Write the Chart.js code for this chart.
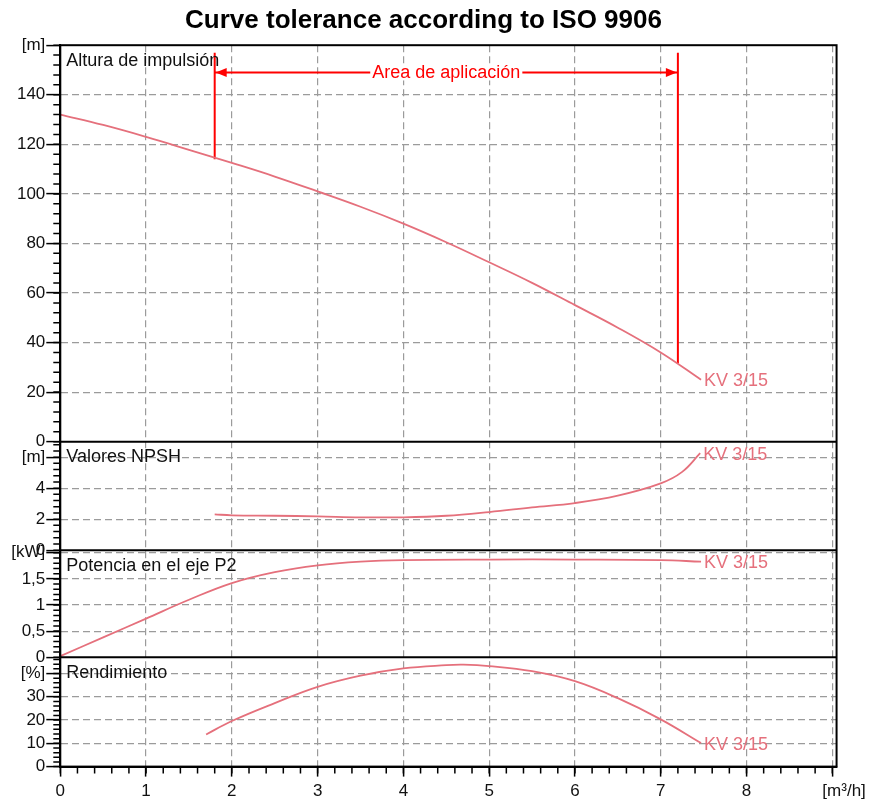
<!DOCTYPE html>
<html>
<head>
<meta charset="utf-8">
<script src="https://cdn.jsdelivr.net/npm/chart.js@4.4.1/dist/chart.umd.min.js"></script>
<style>
  html, body { margin: 0; padding: 0; background: #ffffff; }
  #wrap { width: 871px; height: 801px; position: relative; }
  canvas { display: block; }
</style>
</head>
<body>
<div id="wrap"><canvas id="c" width="871" height="801" style="width:871px;height:801px"></canvas></div>
<script>
// ---------------- data ----------------
const chartTitle = 'Curve tolerance according to ISO 9906';
const panelTitles = ['Altura de impulsión', 'Valores NPSH', 'Potencia en el eje P2', 'Rendimiento'];
const seriesLabel = 'KV 3/15';
const areaLabel = 'Area de aplicación';
const flowUnit = '\u00a0\u00a0\u00a0\u00a0\u00a0[m³/h]';

const headX = [0, 0.5, 1, 1.5, 2, 2.5, 3, 3.5, 4, 4.5, 5, 5.5, 6, 6.5, 7, 7.47];
const headY = [132, 127.8, 123, 117.8, 112.5, 107, 101, 94.8, 88, 80.5, 72.4, 64.1, 55.1, 46, 36, 25];

const npshX = [1.8, 2, 2.5, 3, 3.5, 4, 4.5, 5, 5.5, 6, 6.5, 7, 7.25, 7.46];
const npshY = [2.31, 2.25, 2.22, 2.18, 2.12, 2.12, 2.22, 2.46, 2.76, 3.04, 3.52, 4.31, 5.05, 6.26];

const powX = [0, 0.5, 1, 1.5, 2, 2.5, 3, 3.5, 4, 5, 6, 7, 7.47];
const powY = [0.02, 0.38, 0.74, 1.1, 1.42, 1.63, 1.76, 1.83, 1.86, 1.87, 1.87, 1.86, 1.83];

const effX = [1.7, 2, 2.5, 3, 3.5, 4, 4.5, 4.7, 5, 5.5, 6, 6.5, 7, 7.47];
const effY = [13.8, 19.6, 27.3, 34.3, 39.1, 42.2, 43.6, 43.8, 43.2, 41, 36.7, 29.4, 20.3, 10.1];

// application area (flow limits, head values)
const areaX = [1.8, 7.2];
const areaTop = 157;
const areaBottom = [114, 31.5];
const arrowY = 149;

// axis ranges / ticks
const xMax = 9.05, xStep = 1, xMinor = 0.2;
const headMax = 160, headStep = 20, headMinor = 4;
const npshMax = 7, npshStep = 2, npshMinor = 0.4;
const powMax = 2.05, powStep = 0.5, powMinor = 0.1;
const effMax = 47, effStep = 10, effMinor = 2;
const units = { yHead: ['[m]', 160], yNpsh: ['[m]', 6], yPow: ['[kW]', 2], yEff: ['[%]', 40] };

// ---------------- styling ----------------
const FONT = "Arial, 'Liberation Sans', Helvetica, sans-serif";
Chart.defaults.font.family = FONT;
Chart.defaults.color = '#111';
const curveColor = '#e5707c';
const areaColor = '#ff0000';
const gridColor = '#9b9b9b';

const pts = (xs, ys) => xs.map((x, i) => ({ x: x, y: ys[i] }));
const fmt = v => String(v).replace('.', ',');

function yScale(id, max, step, sw, w) {
  return {
    type: 'linear', position: 'left', stack: 'panels', stackWeight: sw, weight: w,
    min: 0, max: max,
    afterFit(s) { s.width = 50; },
    ticks: {
      stepSize: step, includeBounds: false, autoSkip: false, padding: 1,
      font: { size: 17 }, color: '#111',
      callback: v => (Math.abs(v - units[id][1]) < 1e-9 ? units[id][0] : fmt(v))
    },
    grid: {
      color: c => (c.tick && (c.tick.value === 0 || Math.abs(c.tick.value - max) < 1e-9)) ? 'rgba(0,0,0,0)' : gridColor,
      lineWidth: 1.2, tickLength: 14, tickColor: '#000', tickWidth: 1.5
    },
    border: { display: true, color: '#000', width: 2, dash: [7, 4] }
  };
}

const lineDs = (data, axis) => ({
  data: data, yAxisID: axis, borderColor: curveColor, borderWidth: 1.8,
  pointRadius: 0, fill: false, tension: 0.4
});
const redDs = (data) => ({
  data: data, yAxisID: 'yHead', borderColor: areaColor, borderWidth: 2,
  pointRadius: 0, fill: false, tension: 0
});

const minorTicks = [['yHead', headMinor], ['yNpsh', npshMinor], ['yPow', powMinor], ['yEff', effMinor]];

const extras = {
  id: 'extras',
  afterDatasetsDraw(chart) {
    const { ctx, scales } = chart;
    const xs = scales.x, yh = scales.yHead;
    const x1 = xs.getPixelForValue(areaX[0]), x2 = xs.getPixelForValue(areaX[1]);
    const ya = yh.getPixelForValue(arrowY);
    ctx.save();
    ctx.fillStyle = areaColor;
    ctx.beginPath();
    ctx.moveTo(x1 + 1, ya); ctx.lineTo(x1 + 12, ya - 4.5); ctx.lineTo(x1 + 12, ya + 4.5); ctx.closePath(); ctx.fill();
    ctx.beginPath();
    ctx.moveTo(x2 - 1, ya); ctx.lineTo(x2 - 12, ya - 4.5); ctx.lineTo(x2 - 12, ya + 4.5); ctx.closePath(); ctx.fill();
    ctx.font = '18px ' + FONT;
    const tw = ctx.measureText(areaLabel).width;
    const xc = (x1 + x2) / 2;
    ctx.fillStyle = '#fff';
    ctx.fillRect(xc - tw / 2 - 2, ya - 8, tw + 4, 16);
    ctx.fillStyle = areaColor;
    ctx.textAlign = 'center'; ctx.textBaseline = 'middle';
    ctx.fillText(areaLabel, xc, ya + 1);
    ctx.fillStyle = curveColor;
    ctx.textAlign = 'left';
    for (let i = 0; i < 4; i++) {
      const el = chart.getDatasetMeta(i).data.at(-1);
      ctx.fillText(seriesLabel, el.x + 3, el.y + 1.5);
    }
    ctx.restore();
  },
  afterDraw(chart) {
    const { ctx, chartArea: ca, scales } = chart;
    ctx.save();
    ctx.strokeStyle = '#000'; ctx.lineWidth = 1.5;
    ctx.beginPath();
    const xs = scales.x;
    const nx = Math.floor(xMax / xMinor + 1e-6);
    for (let i = 0; i <= nx; i++) {
      const p = xs.getPixelForValue(i * xMinor);
      ctx.moveTo(p, ca.bottom); ctx.lineTo(p, ca.bottom + 7);
    }
    for (const [id, step] of minorTicks) {
      const s = scales[id];
      const n = Math.floor(s.max / step + 1e-6);
      for (let i = 0; i <= n; i++) {
        const p = s.getPixelForValue(i * step);
        ctx.moveTo(ca.left, p); ctx.lineTo(ca.left - 7, p);
      }
    }
    ctx.stroke();
    ctx.strokeStyle = '#000'; ctx.lineWidth = 2;
    ctx.beginPath();
    for (const id of ['yHead', 'yNpsh', 'yPow']) {
      const b = scales[id].bottom;
      ctx.moveTo(ca.left, b); ctx.lineTo(ca.right, b);
    }
    ctx.stroke();
    ctx.strokeRect(ca.left, ca.top, ca.right - ca.left, ca.bottom - ca.top);
    ctx.fillStyle = '#111';
    ctx.font = '18px ' + FONT;
    ctx.textAlign = 'left'; ctx.textBaseline = 'middle';
    ['yHead', 'yNpsh', 'yPow', 'yEff'].forEach((id, k) => {
      ctx.fillText(panelTitles[k], ca.left + 6, scales[id].top + 15.5);
    });
    ctx.restore();
  }
};

new Chart(document.getElementById('c'), {
  type: 'line',
  data: {
    datasets: [
      lineDs(pts(headX, headY), 'yHead'),
      lineDs(pts(npshX, npshY), 'yNpsh'),
      lineDs(pts(powX, powY), 'yPow'),
      lineDs(pts(effX, effY), 'yEff'),
      redDs([{ x: areaX[0], y: areaTop }, { x: areaX[0], y: areaBottom[0] }]),
      redDs([{ x: areaX[1], y: areaTop }, { x: areaX[1], y: areaBottom[1] }]),
      redDs([{ x: areaX[0], y: arrowY }, { x: areaX[1], y: arrowY }])
    ]
  },
  options: {
    responsive: false,
    animation: false,
    devicePixelRatio: 1,
    events: [],
    layout: { padding: { left: 10.3, right: 34.3, top: 2, bottom: -6 } },
    plugins: {
      legend: { display: false },
      tooltip: { enabled: false },
      title: {
        display: true, text: chartTitle, color: '#000',
        font: { size: 26, weight: 'bold', family: FONT },
        padding: { top: 3, bottom: 9 }
      }
    },
    scales: {
      x: {
        type: 'linear', position: 'bottom', min: 0, max: xMax,
        ticks: {
          stepSize: xStep, includeBounds: false, autoSkip: false, maxRotation: 0, padding: 5,
          font: { size: 17 }, color: '#111',
          callback: v => (v === 9 ? flowUnit : String(v))
        },
        grid: {
          color: c => (c.tick && c.tick.value === 0) ? 'rgba(0,0,0,0)' : gridColor,
          lineWidth: 1.2, tickLength: 10, tickColor: '#000', tickWidth: 1.5
        },
        border: { display: true, color: '#000', width: 2, dash: [7, 4] }
      },
      yHead: yScale('yHead', headMax, headStep, 397.3, 4),
      yNpsh: yScale('yNpsh', npshMax, npshStep, 108.7, 3),
      yPow: yScale('yPow', powMax, powStep, 107.3, 2),
      yEff: yScale('yEff', effMax, effStep, 109.6, 1)
    }
  },
  plugins: [extras]
});
</script>
</body>
</html>
